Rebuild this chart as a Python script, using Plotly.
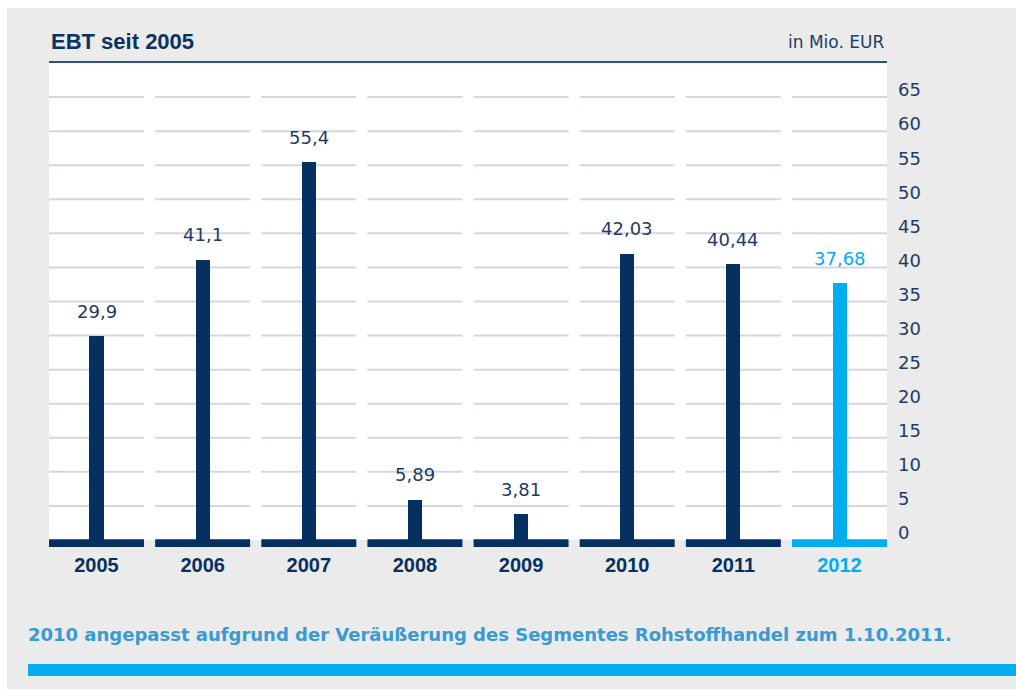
import plotly.graph_objects as go

# ---- data ----
years = ["2005", "2006", "2007", "2008", "2009", "2010", "2011", "2012"]
ebt = [29.9, 41.1, 55.4, 5.89, 3.81, 42.03, 40.44, 37.68]
value_labels = ["29,9", "41,1", "55,4", "5,89", "3,81", "42,03", "40,44", "37,68"]
y_ticks = [0, 5, 10, 15, 20, 25, 30, 35, 40, 45, 50, 55, 60, 65]
title_text = "EBT seit 2005"
unit_text = "in Mio. EUR"
footnote = "2010 angepasst aufgrund der Veräußerung des Segmentes Rohstoffhandel zum 1.10.2011."

# ---- style ----
NAVY = "#06305f"
CYAN = "#00aeef"
TXT = "#1f3b66"
GRID = "#d3d6e6"
GRAY = "#ebebeb"
W, H = 1016, 691
L, R, T, B = 49, 887, 63, 547  # plot area in px
PW, PH = R - L, B - T
HALF = 0.4475  # half of a category segment (in category units)
Y_RANGE = [-1.03, 70.0]

def px_x(p):
    return (p - L) / PW

def px_y(p):
    return (B - p) / PH

highlight = [y == "2012" for y in years]
bar_colors = [CYAN if h else NAVY for h in highlight]

fig = go.Figure()
fig.add_trace(go.Bar(
    x=years, y=ebt, marker_color=bar_colors, marker_line_width=0,
    width=0.132, hoverinfo="skip",
))

shapes = []
# gray page background with white strips on top / left
shapes.append(dict(type="rect", xref="paper", yref="paper", layer="below",
                   x0=px_x(7), x1=px_x(W + 5), y0=px_y(689), y1=px_y(8),
                   fillcolor=GRAY, line_width=0))
# white plot panel
shapes.append(dict(type="rect", xref="paper", yref="y", layer="below",
                   x0=0, x1=1, y0=0, y1=Y_RANGE[1], fillcolor="white", line_width=0))
# segmented grid lines
for i in range(len(years)):
    for t in y_ticks[1:]:
        shapes.append(dict(type="line", xref="x", yref="y", layer="below",
                           x0=i - HALF, x1=i + HALF, y0=t, y1=t,
                           line=dict(color=GRID, width=2)))
# baseline segments
for i, h in enumerate(highlight):
    shapes.append(dict(type="rect", xref="x", yref="y", layer="above",
                       x0=i - HALF, x1=i + HALF, y0=Y_RANGE[0], y1=0.12,
                       fillcolor=CYAN if h else NAVY, line_width=0))
# title rule
shapes.append(dict(type="line", xref="paper", yref="paper",
                   x0=0, x1=1, y0=px_y(62), y1=px_y(62),
                   line=dict(color="#2d5482", width=2)))
# bottom cyan band
shapes.append(dict(type="rect", xref="paper", yref="paper",
                   x0=px_x(28), x1=px_x(W + 5), y0=px_y(676), y1=px_y(664),
                   fillcolor=CYAN, line_width=0))

annotations = []
for i, (v, lab, h) in enumerate(zip(ebt, value_labels, highlight)):
    annotations.append(dict(x=i, y=v, xref="x", yref="y", text=lab,
                            showarrow=False, yanchor="middle", yshift=25,
                            font=dict(family="DejaVu Sans", size=18,
                                      color=CYAN if h else TXT)))
annotations.append(dict(x=0, y=px_y(41), xref="paper", yref="paper", text="<b>" + title_text + "</b>",
                        showarrow=False, xanchor="left", yanchor="middle",
                        font=dict(family="Liberation Sans", size=22, color="#0b3263")))
annotations.append(dict(x=px_x(886), y=px_y(42), xref="paper", yref="paper", text=unit_text,
                        showarrow=False, xanchor="right", yanchor="middle",
                        font=dict(family="DejaVu Sans", size=17, color=TXT)))
annotations.append(dict(x=px_x(26), y=px_y(634), xref="paper", yref="paper", text="<b>" + footnote + "</b>",
                        showarrow=False, xanchor="left", yanchor="middle",
                        font=dict(family="DejaVu Sans", size=18, color="#3a9ad2")))

tick_text = [
    "<b><span style='color:%s'>%s</span></b>" % (CYAN if h else NAVY, y)
    for y, h in zip(years, highlight)
]

fig.update_layout(
    width=W, height=H,
    margin=dict(l=L, r=W - R, t=T, b=H - B, pad=0),
    paper_bgcolor="white", plot_bgcolor="rgba(0,0,0,0)",
    showlegend=False, bargap=0,
    shapes=shapes, annotations=annotations,
    xaxis=dict(type="category", range=[-HALF, len(years) - 1 + HALF],
               tickvals=years, ticktext=tick_text, showgrid=False, zeroline=False,
               showline=False, ticks="", ticklabelstandoff=4,
               tickfont=dict(family="Liberation Sans", size=20, color=NAVY),
               fixedrange=True),
    yaxis=dict(range=Y_RANGE, side="right", tickvals=y_ticks, showgrid=False,
               zeroline=False, showline=False, ticks="", ticklabelstandoff=10,
               ticklabelshift=-7,
               tickfont=dict(family="DejaVu Sans", size=18, color=TXT),
               fixedrange=True),
)

fig.write_html("out.html", config={"displayModeBar": False},
               post_script="document.body.style.margin='0';document.body.style.overflow='hidden';")
